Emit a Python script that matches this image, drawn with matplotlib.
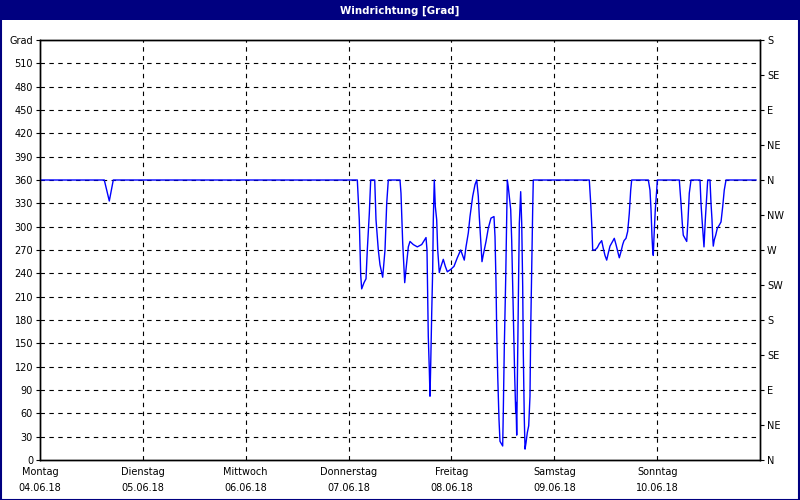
import matplotlib
matplotlib.use("Agg")
import matplotlib.pyplot as plt
from matplotlib.patches import Rectangle

# ---- data (hours since Montag 04.06.18 00:00, wind direction in degrees) ----
hours = [0, 15.0, 16.17, 17.1, 74.04, 74.2, 74.5, 74.67, 74.83, 75.06, 75.6, 76.07,
         76.37, 76.84, 77.16, 78.1, 78.4, 78.94, 79.33, 79.96, 80.5, 80.9, 81.27,
         84.0, 84.23, 84.63, 84.93, 85.1, 85.4, 85.94, 86.33, 87.1, 88.04, 89.06,
         90.07, 90.3, 90.46, 90.6, 90.84, 91.0, 91.16, 91.4, 91.63, 91.77, 92.0,
         92.24, 92.56, 92.8, 93.17, 93.57, 94.1, 94.57, 95.04, 95.83, 96.6, 97.37,
         98.16, 98.54, 99.0, 99.4, 99.94, 100.33, 100.96, 101.5, 101.9, 102.27,
         102.5, 102.74, 102.97, 103.13, 103.44, 104.07, 104.6, 105.23, 105.93,
         106.17, 106.4, 106.56, 106.8, 107.1, 107.33, 107.96, 108.1, 108.34, 108.66,
         108.9, 109.04, 109.27, 109.5, 109.83, 110.06, 110.3, 110.53, 110.76, 111.0,
         111.07, 111.23, 111.46, 111.7, 111.84, 112.16, 112.4, 112.63, 112.77, 113.0,
         113.17, 113.4, 113.7, 114.03, 114.33, 114.5, 114.73, 114.96, 115.1,
         128.17, 128.5, 128.8, 128.96, 129.5, 130.04, 130.5, 131.06, 131.44, 131.83,
         132.23, 132.6, 133.0, 133.4, 134.0, 134.4, 134.8, 135.17, 135.57, 135.96,
         136.27, 136.73, 137.13, 137.5, 137.83, 138.06, 141.94, 142.33, 142.57,
         142.8, 142.96, 143.1, 143.27, 143.57, 143.9, 144.04, 149.17, 149.57, 149.87,
         150.1, 150.5, 150.9, 151.2, 151.5, 151.9, 154.0, 154.23, 154.54, 154.93,
         155.24, 155.56, 155.8, 156.33, 156.57, 156.8, 156.96, 157.1, 157.33, 157.66,
         158.04, 158.5, 158.9, 159.3, 159.66, 160.07, 167.07]
degrees = [360, 360, 333, 360, 360, 343, 309, 270, 238, 220, 228, 233,
           270, 317, 360, 360, 309, 270, 251, 235, 270, 330, 360,
           360, 343, 279, 245, 228, 245, 274, 281, 277, 274, 277,
           286, 270, 210, 159, 116, 82, 121, 189, 245, 309, 360,
           326, 309, 270, 241, 249, 258, 249, 242, 245, 249, 260,
           270, 264, 257, 274, 292, 313, 339, 354, 360, 339,
           313, 292, 270, 255, 264, 281, 298, 311, 313,
           287, 228, 168, 108, 52, 24, 18, 61, 146, 232,
           313, 360, 351, 339, 322, 283, 223, 168, 108, 61,
           74, 32, 142, 245, 304, 345, 304, 223, 138, 54,
           14, 22, 35, 44, 82, 168, 245, 322, 360,
           360, 330, 296, 270, 270, 273, 278, 282, 272, 263,
           257, 266, 275, 279, 285, 277, 268, 260, 268, 277,
           282, 285, 294, 317, 347, 360, 360, 347, 322,
           287, 270, 263, 287, 322, 347, 360, 360, 330, 304,
           289, 285, 281, 309, 343, 360, 360, 330, 304, 274,
           309, 339, 360, 360, 330, 309, 287, 275, 283, 289,
           298, 302, 306, 326, 347, 360, 360]

day_names = ["Montag", "Dienstag", "Mittwoch", "Donnerstag", "Freitag", "Samstag", "Sonntag"]
day_dates = ["04.06.18", "05.06.18", "06.06.18", "07.06.18", "08.06.18", "09.06.18", "10.06.18"]
left_ticks = list(range(0, 541, 30))
left_labels = [str(v) for v in range(0, 511, 30)] + ["Grad"]
compass_labels = ["N", "NE", "E", "SE", "S", "SW", "W", "NW", "N", "NE", "E", "SE", "S"]
title = "Windrichtung [Grad]"

FS = 7
fig = plt.figure(figsize=(8, 5), dpi=100, facecolor="white")

# title bar and frame
fig.patches.append(Rectangle((0, 0.96), 1, 0.04, transform=fig.transFigure,
                             facecolor="#000080", edgecolor="none", zorder=0))
fig.patches.append(Rectangle((0.001, 0.001), 0.998, 0.998, transform=fig.transFigure,
                             facecolor="none", edgecolor="#000080", lw=1.5, zorder=5))
fig.text(0.5, 0.979, title, color="white", ha="center", va="center",
         fontsize=7.4, fontweight="bold")

ax = fig.add_axes([0.05, 0.08, 0.90, 0.84])
ax.plot(hours, degrees, color="#0000ff", lw=1.0, zorder=3)

ax.set_xlim(0, 168)
ax.set_ylim(0, 540)

ax.set_yticks(left_ticks)
ax.set_yticklabels(left_labels, fontsize=FS)
ax.tick_params(axis="y", direction="out", length=3, width=0.8, pad=2)

xt = [24 * i for i in range(7)]
ax.set_xticks(xt)
ax.set_xticklabels([f"{n}\n{d}" for n, d in zip(day_names, day_dates)],
                   fontsize=FS, linespacing=1.8)
ax.tick_params(axis="x", length=0, pad=5)

# dashed grid
for h in xt[1:]:
    ax.axvline(h, color="black", lw=0.8, ls=(0, (4, 4)), zorder=1)
for v in left_ticks[1:-1]:
    ax.axhline(v, color="black", lw=0.8, ls=(0, (4, 4)), zorder=1)

for s in ax.spines.values():
    s.set_linewidth(1.0)
    s.set_color("black")

ax2 = ax.twinx()
ax2.set_ylim(0, 540)
ax2.set_yticks(list(range(0, 541, 45)))
ax2.set_yticklabels(compass_labels, fontsize=FS)
ax2.tick_params(axis="y", direction="out", length=3, width=0.8, pad=2)
for s in ax2.spines.values():
    s.set_linewidth(1.0)

fig.savefig("out.png", dpi=100, facecolor="white")
